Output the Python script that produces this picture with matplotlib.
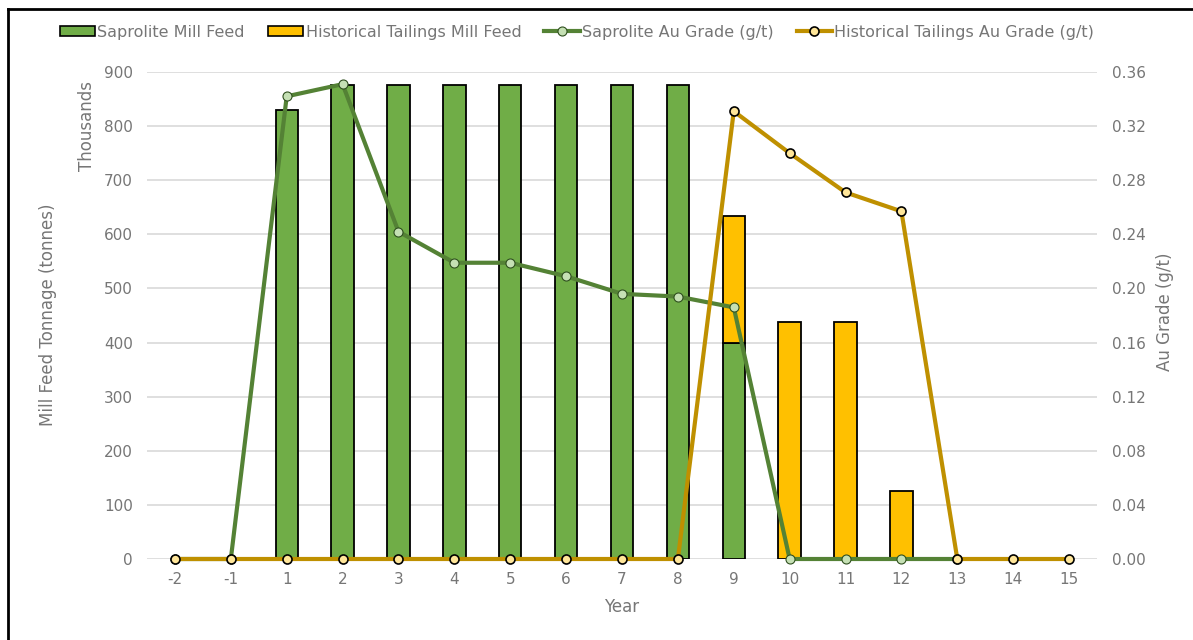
import matplotlib
matplotlib.use("Agg")
import matplotlib.pyplot as plt
import numpy as np
from matplotlib.lines import Line2D
from matplotlib.patches import Patch

# Mine plan by year (tonnes in thousands, grades in g/t)
years = ["-2", "-1", "1", "2", "3", "4", "5", "6", "7", "8", "9",
         "10", "11", "12", "13", "14", "15"]
saprolite_feed = [0, 0, 829, 876, 876, 876, 876, 876, 876, 876, 400,
                  0, 0, 0, 0, 0, 0]
tailings_feed = [0, 0, 0, 0, 0, 0, 0, 0, 0, 0, 234,
                 438, 438, 125, 0, 0, 0]
saprolite_grade = [0, 0, 0.342, 0.351, 0.242, 0.219, 0.219, 0.209, 0.196,
                   0.194, 0.186, 0, 0, 0, 0, np.nan, np.nan]
tailings_grade = [0, 0, 0, 0, 0, 0, 0, 0, 0, 0, 0.331,
                  0.300, 0.271, 0.257, 0, 0, 0]

GREEN_BAR = "#70ad47"
GOLD_BAR = "#ffc000"
GREEN_LINE = "#548235"
GOLD_LINE = "#bf9000"
GREEN_MK = "#c5e0b4"
GOLD_MK = "#ffe699"
TXT = "#767676"
GRID = "#d9d9d9"

plt.rcParams["font.family"] = ["DejaVu Sans"]
plt.rcParams["font.size"] = 11

fig = plt.figure(figsize=(11.93, 6.40), dpi=100)
ax = fig.add_axes([147 / 1193, 1 - 559 / 640, 950 / 1193, 487 / 640])
ax2 = ax.twinx()

x = np.arange(len(years))
w = 0.4
ax.bar(x, saprolite_feed, width=w, color=GREEN_BAR, edgecolor="black",
       linewidth=1.3, zorder=2)
ax.bar(x, tailings_feed, width=w, bottom=saprolite_feed, color=GOLD_BAR,
       edgecolor="black", linewidth=1.3, zorder=2)
# hide zero-height bar outlines
for c in ax.containers:
    for p in c:
        if p.get_height() == 0:
            p.set_visible(False)

ax2.plot(x, saprolite_grade, color=GREEN_LINE, lw=3, marker="o", ms=6.5,
         mfc=GREEN_MK, mec="#2f4f1f", mew=0.8, zorder=3, clip_on=False)
ax2.plot(x, tailings_grade, color=GOLD_LINE, lw=3, marker="o", ms=6.5,
         mfc=GOLD_MK, mec="black", mew=1.2, zorder=4, clip_on=False)

ax.set_xlim(-0.5, len(years) - 0.5)
ax.set_ylim(0, 900)
ax.set_yticks(np.arange(0, 901, 100))
ax2.set_ylim(0, 0.36)
ax2.set_yticks(np.arange(0, 0.3601, 0.04))
ax2.set_yticklabels([f"{v:.2f}" for v in np.arange(0, 0.3601, 0.04)])
ax.set_xticks(x)
ax.set_xticklabels(years)

ax.grid(axis="y", color=GRID, lw=1.2, zorder=0)
ax.set_axisbelow(True)
for a in (ax, ax2):
    for s in a.spines.values():
        s.set_visible(False)
    a.tick_params(length=0, colors=TXT, labelsize=11)
ax.tick_params(axis="y", pad=10)
ax.tick_params(axis="x", pad=9)
ax2.tick_params(axis="y", pad=11)
ax.set_zorder(ax2.get_zorder() - 1)
ax.patch.set_visible(True)
ax2.patch.set_visible(False)

fig.text(48 / 1193, 1 - 315 / 640, "Mill Feed Tonnage (tonnes)", rotation=90,
         ha="center", va="center", color=TXT, fontsize=12)
fig.text(87 / 1193, 1 - 126 / 640, "Thousands", rotation=90,
         ha="center", va="center", color=TXT, fontsize=12)
fig.text(1165 / 1193, 1 - 312 / 640, "Au Grade (g/t)", rotation=90,
         ha="center", va="center", color=TXT, fontsize=12)
fig.text(622 / 1193, 1 - 607 / 640, "Year", ha="center", va="center",
         color=TXT, fontsize=12)

handles = [
    Patch(facecolor=GREEN_BAR, edgecolor="black", linewidth=1.2),
    Patch(facecolor=GOLD_BAR, edgecolor="black", linewidth=1.2),
    Line2D([], [], color=GREEN_LINE, lw=3, marker="o", ms=6.5,
           mfc=GREEN_MK, mec="#2f4f1f", mew=0.8),
    Line2D([], [], color=GOLD_LINE, lw=3, marker="o", ms=6.5,
           mfc=GOLD_MK, mec="black", mew=1.2),
]
labels = ["Saprolite Mill Feed", "Historical Tailings Mill Feed",
          "Saprolite Au Grade (g/t)", "Historical Tailings Au Grade (g/t)"]
fig.legend(handles, labels, loc="center", bbox_to_anchor=(577 / 1193, 1 - 32 / 640),
           ncol=4, frameon=False, fontsize=11.5, labelcolor=TXT,
           handlelength=2.2, handleheight=0.6, handletextpad=0.15,
           columnspacing=1.45)

# outer frame
fig.add_artist(Line2D([8 / 1193, 8 / 1193], [0, 1 - 9 / 640],
                      transform=fig.transFigure, color="black", lw=2))
fig.add_artist(Line2D([8 / 1193, 1], [1 - 9 / 640, 1 - 9 / 640],
                      transform=fig.transFigure, color="black", lw=2))

fig.savefig("out.png", dpi=100, facecolor="white")
